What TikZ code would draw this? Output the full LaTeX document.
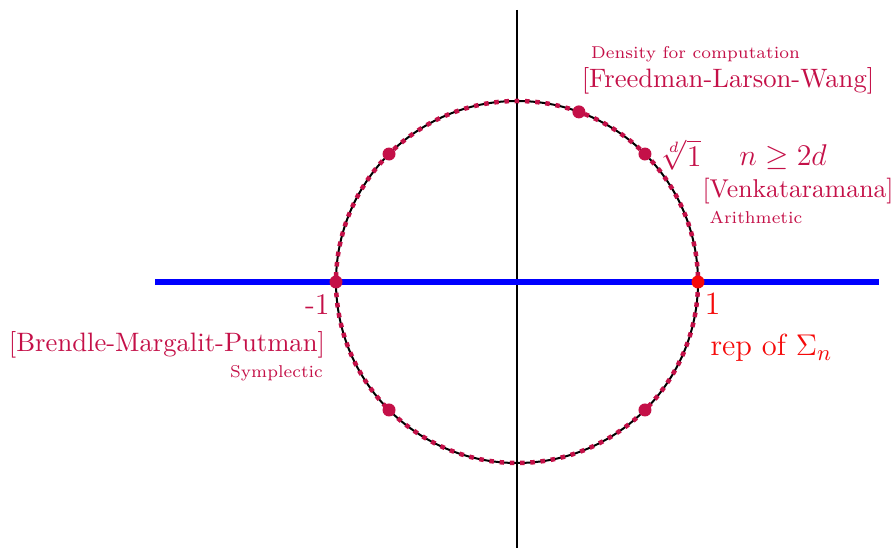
\documentclass[tikz,border=0pt]{standalone}
\usepackage{amsmath,amssymb}
\usetikzlibrary{calc}
\definecolor{crim}{RGB}{196,16,72}
\definecolor{repred}{RGB}{245,10,10}
\begin{document}
\begin{tikzpicture}[x=0.4pt,y=-0.4pt,
  font=\fontsize{10.65}{13}\selectfont,
  lbl/.style={inner sep=0pt,text=crim},
  big/.style={inner sep=0pt,font=\fontsize{12.8}{15}\selectfont},
  small/.style={inner sep=0pt,text=crim,font=\fontsize{6.85}{8}\selectfont},
  pt/.style={circle,fill=crim,inner sep=0pt,minimum size=5.2pt},
]
\useasboundingbox (0,0) rectangle (896,550);
\coordinate (O) at (517,282);
\coordinate (top) at (517,10);
\coordinate (bot) at (517,548);
\coordinate (left) at (155,282);
\coordinate (right) at (879,282);
\draw[line width=0.8pt] (top) -- (bot);
\draw[blue,line width=2.4pt] (left) -- (right);
\draw[line width=0.8pt] (O) circle[radius=181];
\draw[crim,line width=1.8pt,dash pattern=on 1.8pt off 2.3pt] (O) circle[radius=181];
\foreach \a/\n in {45/p45,70/p70,135/p135,180/p180,225/p225,315/p315}
  \node[pt] (\n) at ($(O)+(\a:181 and -181)$) {};
\node[pt,fill=repred] (p0) at ($(O)+(181,0)$) {};
\node[small] (dens) at (695.5,54) {Density for computation};
\node[lbl] (flw) at (728,81) {[Freedman-Larson-Wang]};
\node[big,text=crim,anchor=west] (root) at (660,155) {$\sqrt[d]{1}$};
\node[big,text=crim] (ineq) at (783,157) {$n\geq 2d$};
\node[lbl,anchor=west,font=\fontsize{10.3}{13}\selectfont] (venk) at (702,191) {[Venkataramana]};
\node[small] (arith) at (756,217.5) {Arithmetic};
\node[big,text=crim,anchor=base east,font=\fontsize{12}{14}\selectfont] (m1) at (330,315) {-1};
\node[big,text=repred,anchor=base west,font=\fontsize{13}{15}\selectfont] (one) at (704,315) {1};
\node[lbl] (bmp) at (167,345) {[Brendle-Margalit-Putman]};
\node[small] (symp) at (276.5,373) {Symplectic};
\node[big,text=repred,anchor=base west,font=\fontsize{12.2}{15}\selectfont] (rep) at (710,356) {rep of $\Sigma_n$};
\end{tikzpicture}
\end{document}
